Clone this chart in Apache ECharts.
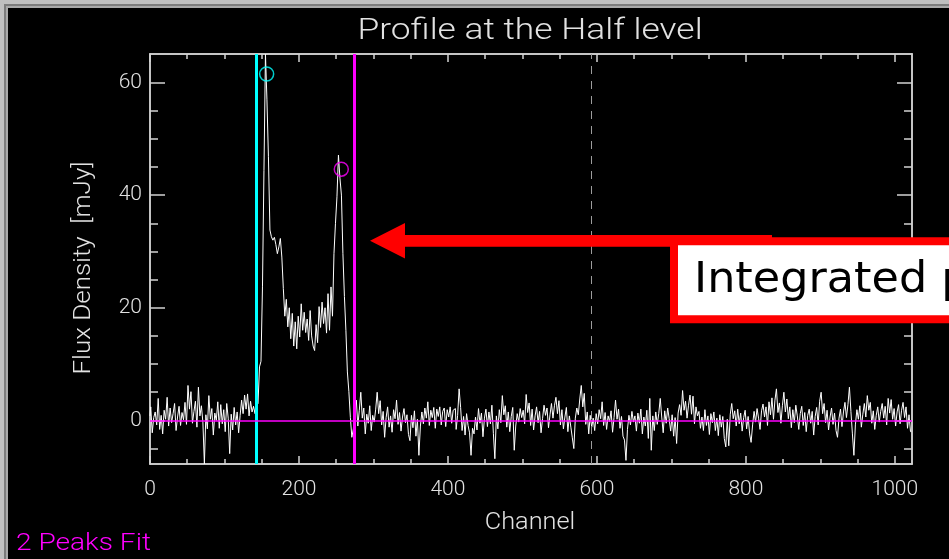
<!DOCTYPE html>
<html>
<head>
<meta charset="utf-8">
<script src="https://cdn.jsdelivr.net/npm/echarts@6/dist/echarts.min.js"></script>
<style>
  html, body { margin: 0; padding: 0; background: #000; }
  #chart { width: 949px; height: 559px; }
</style>
</head>
<body>
<div id="chart"></div>
<script>
// Flux density (mJy) per channel, sampled every 2 channels.
const CHANNEL_STEP = 2;

// channels 0 .. 140 : baseline noise before the line
const baselineLowStart = 0;
const baselineLow = [
  0.8, 2.4, -2.2, 0.5, 1.5, -0.8, 3.9, -1.6, 0.9, -2.4, 1.8, 0.2, 4.1, -1.0, 2.2, -0.4,
  1.2, 3.0, -1.8, 0.6, 2.5, -0.9, 1.4, 0.1, 3.2, -0.7, 6.2, 2.0, 5.1, -0.5, 1.6, 3.4,
  -1.2, 5.9, 0.8, 2.6, -0.3, -7.7, 1.0, -1.5, 4.4, 0.2, 2.1, -2.6, 1.3, 0.0, 3.3, -1.4,
  2.8, -0.6, 1.9, -2.0, 3.0, 0.4, -5.9, 1.1, -1.7, 2.3, -0.8, 1.5, -2.2, 0.9, 3.6, 1.2,
  4.5, 2.0, 4.7, 0.8, 3.4, 1.5, 2.5
];

// channels 142 .. 276 : double-horned line profile
const profileStart = 142;
const profile = [
  1.2, 2.5, 3.0, 9.5, 10.5, 23.7, 44.4, 65.0, 56.9, 46.8, 33.8, 32.6, 32.0, 32.5, 31.2, 29.6,
  30.8, 32.3, 29.0, 23.4, 18.5, 21.5, 16.6, 20.0, 14.5, 19.0, 13.2, 17.5, 12.7, 18.5, 14.8, 20.7,
  16.0, 19.2, 15.6, 18.0, 14.2, 19.5, 15.0, 13.2, 12.4, 17.0, 13.8, 20.2, 16.5, 21.0, 17.2, 20.0,
  15.5, 22.5, 16.0, 23.7, 18.5, 29.6, 35.0, 39.7, 47.1, 43.0, 40.0, 29.6, 22.0, 16.0, 8.6, 5.1,
  0.5, -3.0, -1.5, 2.0
];

// channels 278 .. 1022 : baseline noise after the line
const baselineHighStart = 278;
const baselineHigh = [
  3.6, -1.0, 1.8, 5.0, 0.4, 2.2, -2.4, 1.1, -0.5, 2.6, -1.8, 0.9, -0.3, 2.0, 5.0, 1.2,
  3.5, -0.8, 1.6, -3.0, 0.5, 2.4, -1.2, 0.8, -2.1, 1.9, 0.3, 3.6, -0.7, 1.4, -1.9, 0.6,
  2.1, -0.4, 1.0, -2.5, -3.6, 0.9, -1.3, 1.7, -2.8, 0.2, -6.2, -1.0, 1.5, -0.6, 2.2, 0.4,
  3.3, -0.9, 1.8, 0.5, 2.3, -1.4, 2.0, 0.7, 2.4, -0.8, 1.6, 2.2, -1.1, 1.9, 0.6, 2.4,
  -0.5, 1.8, 2.1, -1.6, 0.9, 5.6, 2.3, -1.8, 0.7, -2.6, 1.2, -0.9, -2.2, -6.2, -1.4, -2.4,
  0.6, -1.7, 2.1, -0.5, 1.3, -2.9, 0.4, 2.0, -1.1, 1.5, -0.6, 2.7, -2.3, -6.8, 0.8, -1.5,
  1.9, -0.4, 4.4, 1.0, 2.6, -1.2, 1.5, -2.0, 0.7, 2.3, -5.3, -1.0, 1.2, -0.3, 2.1, 0.5,
  1.8, -0.6, 4.6, 1.4, 3.1, -0.9, 2.0, -1.7, 0.8, 2.4, -0.4, 1.6, -2.2, 0.3, 2.7, 0.9,
  2.2, -1.3, 1.0, 3.0, 0.4, 2.6, 4.1, 1.2, 3.5, -0.8, 1.9, -1.5, 0.6, 2.3, -2.0, 0.8,
  -1.2, -3.1, -5.0, 0.4, 2.2, 1.0, 3.8, 6.2, 2.4, 4.8, -0.7, 1.5, -2.4, 0.9, -1.2, 0.4,
  -1.8, 1.2, -0.6, 1.9, 0.3, 3.3, -0.9, 1.4, -1.6, 0.8, -0.2, 1.7, -2.1, 0.5, 3.6, 0.2,
  2.0, -1.4, 0.7, -2.8, -3.5, -7.1, -1.6, 0.9, -0.8, 1.6, -0.3, 0.8, -1.9, 1.3, -0.5, 2.0,
  -2.4, 0.6, -1.0, 1.8, -3.2, 3.9, -5.3, 0.8, -1.8, 1.5, -0.7, 1.2, 3.9, 0.6, -2.2, 1.7,
  -0.5, 2.2, 0.3, -1.9, 1.0, -2.8, 0.5, -4.1, 1.3, 2.8, 0.9, 5.3, 1.8, 3.4, 0.4, 2.7,
  4.5, 1.1, 4.3, -0.6, 2.4, 0.8, 1.6, -1.4, 0.6, -1.8, 1.9, -0.9, 0.8, -2.5, 1.2, -0.4,
  1.5, -1.8, 0.4, -2.7, 1.0, -1.2, 0.7, -3.2, -4.7, 0.2, -4.5, 1.1, 3.0, 0.3, 1.7, -1.0,
  2.0, -0.6, 1.3, -1.9, 0.5, 1.8, -1.5, 0.7, -2.4, -3.9, -0.8, 1.6, -0.3, 2.1, 0.4, -1.6,
  1.7, 2.9, 0.6, 2.4, -0.9, 3.3, 1.0, 4.0, 0.2, 3.6, 5.6, 1.4, 3.1, -0.5, 2.6, 5.0,
  1.5, 3.8, 0.3, 2.4, -1.3, 1.9, -0.4, 2.7, 0.8, -1.6, 1.2, 2.5, -0.9, 1.4, -2.0, 0.9,
  2.0, -0.5, 1.6, -2.6, 0.7, 2.3, -0.8, 3.4, 5.0, 1.2, 3.0, -0.4, 1.8, -1.7, 0.6, 2.2,
  -0.7, 1.3, -1.8, -3.0, 0.4, 2.0, -1.1, 1.5, 3.2, 0.5, 2.8, 5.9, 1.6, -2.4, -6.2, -0.8,
  1.9, 0.2, 2.6, -1.2, 1.1, 3.0, 0.6, 4.4, 1.8, 3.2, -0.5, 1.7, -1.6, 0.9, 2.4, -0.3,
  1.6, 3.0, 0.4, 2.5, -0.8, 3.9, 1.3, 3.7, 0.2, 2.1, -1.0, 1.5, 2.8, -0.6, 1.8, 3.2,
  0.5, 2.4, -1.4, 1.0, -2.0
];

// axis ranges and ticks
const xRange = [0, 1023];
const yRange = [-7.74, 65.05];
const xMajorTicks = [0, 200, 400, 600, 800, 1000];
const xMinorTicks = [50, 100, 150, 250, 300, 350, 450, 500, 550, 650, 700, 750, 850, 900, 950];
const yMajorTicks = [0, 20, 40, 60];
const yMinorTicks = [-5, 5, 10, 15, 25, 30, 35, 45, 50, 55];

// fit results: integration window edges, centre channel, the two horn peaks
const windowLowChannel = 142;
const windowHighChannel = 274.6;
const centreChannel = 593;
const peakLow = [156.6, 61.5];
const peakHigh = [256.8, 44.6];

function segment(start, values) {
  return values.map((v, i) => [start + i * CHANNEL_STEP, v]);
}
const spectrum = []
  .concat(segment(baselineLowStart, baselineLow))
  .concat(segment(profileStart, profile))
  .concat(segment(baselineHighStart, baselineHigh));

const AXIS = '#d2d2d2';
const TEXT = '#e2e2e2';
const CYAN = '#00ffff';
const MAGENTA = '#ff00ff';
const PLOT_FONT = 'Roboto';

function xAxisDef(position, ticks, len, withLabels) {
  return {
    type: 'value', position: position, min: xRange[0], max: xRange[1],
    axisLine: { show: true, onZero: false, lineStyle: { color: AXIS, width: 1.5 } },
    axisTick: { show: true, inside: true, length: len, customValues: ticks,
                lineStyle: { color: AXIS, width: 1.5 } },
    axisLabel: withLabels ? {
      show: true, customValues: ticks, color: TEXT, fontFamily: PLOT_FONT,
      fontWeight: 300, fontSize: 21, margin: 15,
      formatter: (v) => String(v)
    } : { show: false },
    splitLine: { show: false }
  };
}
function yAxisDef(position, ticks, len, withLabels) {
  return {
    type: 'value', position: position, min: yRange[0], max: yRange[1],
    axisLine: { show: true, onZero: false, lineStyle: { color: AXIS, width: 1.5 } },
    axisTick: { show: true, inside: true, length: len, customValues: ticks,
                lineStyle: { color: AXIS, width: 1.5 } },
    axisLabel: withLabels ? {
      show: true, customValues: ticks, color: TEXT, fontFamily: PLOT_FONT,
      fontWeight: 300, fontSize: 21, margin: 8, padding: [6, 0, 0, 0],
      formatter: (v) => String(v)
    } : { show: false },
    splitLine: { show: false }
  };
}

const chart = echarts.init(document.getElementById('chart'), null, { renderer: 'canvas' });

chart.setOption({
  animation: false,
  backgroundColor: '#c0c0c0',
  grid: { left: 150, right: 37, top: 54, bottom: 95, containLabel: false },
  xAxis: [
    xAxisDef('bottom', xMajorTicks, 8, true),
    xAxisDef('bottom', xMinorTicks, 5, false),
    xAxisDef('top', xMajorTicks, 8, false),
    xAxisDef('top', xMinorTicks, 5, false)
  ],
  yAxis: [
    yAxisDef('left', yMajorTicks, 15, true),
    yAxisDef('left', yMinorTicks, 8, false),
    yAxisDef('right', yMajorTicks, 15, false),
    yAxisDef('right', yMinorTicks, 8, false)
  ],
  series: [
    {
      // dashed marker at the centre channel
      type: 'line', data: [], z: 1,
      markLine: {
        silent: true, symbol: 'none', label: { show: false },
        data: [{ xAxis: centreChannel, lineStyle: { color: '#9c9c9c', type: [8, 7], width: 1 } }]
      }
    },
    {
      type: 'line', data: spectrum, step: 'middle', symbol: 'none', z: 3,
      lineStyle: { color: '#ffffff', width: 1 }
    },
    {
      // integration window and zero level
      type: 'line', data: [], z: 4,
      markLine: {
        silent: true, symbol: 'none', label: { show: false },
        data: [
          { xAxis: windowLowChannel, lineStyle: { color: CYAN, type: 'solid', width: 3 } },
          { xAxis: windowHighChannel, lineStyle: { color: MAGENTA, type: 'solid', width: 3 } },
          { yAxis: 0, lineStyle: { color: MAGENTA, type: 'solid', width: 1.5 } }
        ]
      }
    },
    {
      type: 'scatter', z: 5, symbol: 'circle', symbolSize: 14,
      itemStyle: { color: 'rgba(0,0,0,0)', borderWidth: 1.5 },
      data: [
        { value: peakLow, itemStyle: { borderColor: CYAN } },
        { value: peakHigh, itemStyle: { borderColor: MAGENTA } }
      ]
    }
  ],
  graphic: [
    // window frame
    { type: 'rect', z: -20, shape: { x: 4, y: 4, width: 945, height: 555 }, style: { fill: '#7c7c7c' } },
    { type: 'rect', z: -19, shape: { x: 6, y: 6, width: 943, height: 553 }, style: { fill: '#a9a9a9' } },
    { type: 'rect', z: -18, shape: { x: 8, y: 8, width: 941, height: 551 }, style: { fill: '#000000' } },
    // title and axis names
    { type: 'text', z: 10, x: 530, y: 32, scaleX: 1.22,
      style: { text: 'Profile at the Half level', fill: TEXT, font: '300 29px ' + PLOT_FONT,
               align: 'center', verticalAlign: 'middle' } },
    { type: 'text', z: 10, x: 530, y: 523, scaleX: 1.1,
      style: { text: 'Channel', fill: TEXT, font: '300 23px ' + PLOT_FONT,
               align: 'center', verticalAlign: 'middle' } },
    { type: 'text', z: 10, x: 84, y: 268, rotation: Math.PI / 2, scaleX: 1.13,
      style: { text: 'Flux Density  [mJy]', fill: TEXT, font: '300 23px ' + PLOT_FONT,
               align: 'center', verticalAlign: 'middle' } },
    { type: 'text', z: 10, x: 16, y: 544, scaleX: 1.22,
      style: { text: '2 Peaks Fit', fill: MAGENTA, font: '300 23px ' + PLOT_FONT,
               align: 'left', verticalAlign: 'middle' } },
    // call-out arrow and box
    { type: 'polygon', z: 20,
      shape: { points: [[370, 240.8], [405, 223], [405, 235], [772, 235], [772, 246.7], [405, 246.7], [405, 258.5]] },
      style: { fill: '#ff0000' } },
    { type: 'rect', z: 21, shape: { x: 674, y: 241.3, width: 320, height: 78 },
      style: { fill: '#ffffff', stroke: '#ff0000', lineWidth: 8 } },
    { type: 'text', z: 22, x: 694, y: 281, scaleX: 1.06,
      style: { text: 'Integrated profile', fill: '#000000', font: '42px "DejaVu Sans"',
               align: 'left', verticalAlign: 'middle' } }
  ]
});
</script>
</body>
</html>
